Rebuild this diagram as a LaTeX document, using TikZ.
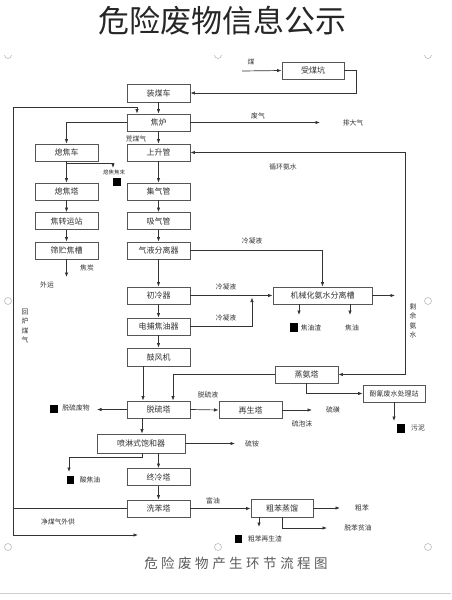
\documentclass[tikz,border=0pt]{standalone}
\usepackage{fontspec}
\setmainfont{Noto Sans CJK SC}
\usetikzlibrary{arrows.meta}
\definecolor{boxc}{HTML}{555555}
\definecolor{linec}{HTML}{333333}
\definecolor{txt}{HTML}{333333}
\definecolor{handle}{HTML}{BBBBBB}
\begin{document}
\begin{tikzpicture}[x=1pt,y=-1pt,
 box/.style={draw=boxc,line width=0.9pt,fill=white,minimum width=63pt,minimum height=17pt,inner sep=0pt,font=\fontsize{8}{9}\selectfont,text=txt},
 lbl/.style={font=\fontsize{6.8}{7}\selectfont,text=txt,inner sep=0pt},
 vlbl/.style={font=\fontsize{6.8}{9.5}\selectfont,text=txt,inner sep=0pt,align=center},
 ln/.style={draw=linec,line width=0.7pt},
 arr/.style={ln,-{Latex[length=4.5pt,width=3.5pt]}},
 arrb/.style={ln,{Latex[length=4.5pt,width=3.5pt]}-{Latex[length=4.5pt,width=3.5pt]}},
 sq/.style={fill=black,minimum width=8pt,minimum height=8pt,inner sep=0pt}]
\fill[white] (0,0) rectangle (451,600);
\useasboundingbox (0,0) rectangle (451,600);

% title and caption
\node[font=\fontsize{31}{32}\selectfont,text=black!85] (title) at (222,21) {危险废物信息公示};
\node[font=\fontsize{13.5}{14}\selectfont,text=txt!80] (caption) at (236,563)
 {危\hskip3.5pt 险\hskip3.5pt 废\hskip3.5pt 物\hskip3.5pt 产\hskip3.5pt 生\hskip3.5pt 环\hskip3.5pt 节\hskip3.5pt 流\hskip3.5pt 程\hskip3.5pt 图};
\draw[handle!70,line width=0.8pt] (0,593) -- (451,593);
% selection handles
\foreach \x in {8,218,428} {\draw[handle,line width=0.6pt] (\x-3.5,55) arc (180:0:3.5);}
\foreach \x/\y in {8/301,428/301,8/547,218/547,428/547} {\draw[handle,line width=0.6pt] (\x,\y) circle (3.5);}

% boxes
\node[box,minimum width=62pt] (shoumei) at (313,70.5) {受煤坑};
\node[box,minimum height=18pt] (zhuangmei) at (158.5,93) {装煤车};
\node[box] (jiaolu) at (158.5,122.5) {焦炉};
\node[box] (shangsheng) at (158.5,152.5) {上升管};
\node[box] (xijiaoche) at (66.5,152.5) {熄焦车};
\node[box] (xijiaota) at (66.5,191.5) {熄焦塔};
\node[box] (zhuanyun) at (66.5,221) {焦转运站};
\node[box] (shaizhu) at (66.5,250.5) {筛贮焦槽};
\node[box] (jiqi) at (158.5,191.5) {集气管};
\node[box] (xiqi) at (158.5,221) {吸气管};
\node[box] (qiye) at (158.5,250.5) {气液分离器};
\node[box] (chuleng) at (158.5,295.5) {初冷器};
\node[box] (dianbu) at (158.5,326.5) {电捕焦油器};
\node[box,minimum height=18pt] (gufeng) at (158.5,357) {鼓风机};
\node[box,minimum width=99pt] (jixie) at (322.5,295.5) {机械化氨水分离槽};
\node[box] (zhengan) at (306.5,374.5) {蒸氨塔};
\node[box,minimum width=62pt,font=\fontsize{7}{7.5}\selectfont] (fenqing) at (394,393.5) {酚氰废水处理站};
\node[box] (tuoliu) at (158.5,409.5) {脱硫塔};
\node[box] (zaisheng) at (250.5,410) {再生塔};
\node[box,minimum width=88pt,minimum height=19pt] (penlin) at (141,443.5) {喷淋式饱和器};
\node[box] (zhongleng) at (158.5,477) {终冷塔};
\node[box] (xiben) at (158.5,508.5) {洗苯塔};
\node[box,minimum width=62pt,minimum height=18pt] (cuben) at (282,508) {粗苯蒸馏};

% coordinates
\coordinate (coalin) at (242,71);
\coordinate (feiqiend) at (320,122.5);
\coordinate (amr) at (405,0);
\coordinate (leftx) at (13,0);
\coordinate (topy) at (0,107);
\coordinate (boty) at (0,535);

% coal
\draw[arr] (coalin) -- (shoumei.west);
\node[lbl] (mei) at (251,62) {煤};
\draw[arr] (shoumei.east) -- ++(12,0) |- (zhuangmei.east);
\draw[arr] (zhuangmei.south) -- (jiaolu.north);
% waste gas
\draw[arr] (jiaolu.east) -- (feiqiend);
\node[lbl] (feiqi) at (258,116) {废气};
\node[lbl] (paidaqi) at (353,123) {排大气};
% coke path
\draw[arr] (jiaolu.west) -| (xijiaoche.north);
\draw[arr] (xijiaoche.south) -- (xijiaota.north);
\coordinate (jmA) at (66.5,163);
\coordinate (jmB) at (113,163);
\coordinate (jmC) at (113,168);
\draw[ln] (jmA) -- (jmB);
\draw[arr] (jmB) -- (jmC);
\node[lbl,font=\fontsize{5.5}{6}\selectfont] (jmlbl) at (114,172.5) {熄焦焦末};
\node[sq] (jmsq) at (116.5,182) {};
\draw[arr] (xijiaota.south) -- (zhuanyun.north);
\draw[arr] (zhuanyun.south) -- (shaizhu.north);
\coordinate (waiyunend) at (66.5,277);
\draw[arr] (shaizhu.south) -- (waiyunend);
\node[lbl] (jiaotan) at (87,268) {焦炭};
\node[lbl] (waiyun) at (47,285) {外运};
% gas path
\draw[arr] (jiaolu.south) -- (shangsheng.north);
\node[lbl] (huangmeiqi) at (136,139) {荒煤气};
\draw[arr] (shangsheng.south) -- (jiqi.north);
\draw[arr] (jiqi.south) -- (xiqi.north);
\draw[arr] (xiqi.south) -- (qiye.north);
\draw[arr] (qiye.south) -- (chuleng.north);
\draw[arr] (chuleng.south) -- (dianbu.north);
\draw[arr] (dianbu.south) -- (gufeng.north);
% condensate
\draw[arr] (qiye.east) -| (jixie.north);
\node[lbl] (lny1) at (252,241) {冷凝液};
\draw[arr] (chuleng.east) -- (jixie.west);
\node[lbl] (lny2) at (226,287) {冷凝液};
\coordinate (dbx) at (252,0);
\draw[arr] (dianbu.east) -- (dianbu.east -| dbx) -- ([yshift=-2pt]chuleng.east -| dbx);
\node[lbl] (lny3) at (226,318) {冷凝液};
% tank outputs
\coordinate (jyA) at (299,304);
\coordinate (jyB) at (299,315);
\coordinate (jyC) at (350,304);
\coordinate (jyD) at (350,315);
\draw[arr] (jyA) -- (jyB);
\draw[arr] (jyC) -- (jyD);
\node[sq,minimum height=9pt] (jyzsq) at (294,327.5) {};
\node[lbl] (jyz) at (311,328) {焦油渣};
\node[lbl] (jy) at (352,328) {焦油};
\coordinate (jxend) at (395,295.5);
\draw[arr] (jixie.east) -- (jxend);
% ammonia water loop
\draw[arrb] (shangsheng.east) -- (shangsheng.east -| amr) -- (zhengan.east -| amr) -- (zhengan.east);
\node[lbl] (xhas) at (283,167) {循环氨水};
\node[vlbl] (syas) at (413,321) {剩\\余\\氨\\水};
% blower to desulf
\coordinate (gfx) at (143,0);
\draw[arr] (gufeng.south -| gfx) -- (tuoliu.north -| gfx);
\coordinate (zax) at (173,0);
\draw[arr] (zhengan.west) -- (zhengan.west -| zax) -- (tuoliu.north -| zax);
\draw[arr] (zhengan.south) |- (fenqing.west);
\coordinate (wnend) at (394,421);
\draw[arr] (fenqing.south) -- (wnend);
\node[sq,minimum height=9pt] (wnsq) at (401,428.5) {};
\node[lbl] (wn) at (418,428) {污泥};
% desulf
\coordinate (tlwend) at (97,409.5);
\draw[arr] (tuoliu.west) -- (tlwend);
\node[sq] (tlsq) at (54,409) {};
\node[lbl] (tlfw) at (76,408) {脱硫废物};
\draw[arr] (tuoliu.east) -- (zaisheng.west);
\node[lbl] (tly) at (208,395) {脱硫液};
\coordinate (lhend) at (312,410);
\draw[arr] (zaisheng.east) -- (lhend);
\node[lbl] (lh) at (333,410) {硫磺};
\node[lbl] (lpm) at (302,424) {硫泡沫};
\coordinate (tlx) at (142,0);
\draw[arr] (tuoliu.south -| tlx) -- (penlin.north -| tlx);
% saturator
\coordinate (laend) at (235,443.5);
\draw[arr] (penlin.east) -- (laend);
\node[lbl] (la) at (252,444) {硫铵};
\coordinate (sjA) at (142,457);
\coordinate (sjB) at (69,457);
\coordinate (sjC) at (69,472);
\draw[ln] (penlin.south -| sjA) -- (sjA) -- (sjB);
\draw[arr] (sjB) -- (sjC);
\node[sq,minimum width=7pt,minimum height=8pt] (sjsq) at (70,479.5) {};
\node[lbl] (sjy) at (90,480) {酸焦油};
\coordinate (plx) at (158.5,0);
\draw[arr] (penlin.south -| plx) -- (zhongleng.north);
\draw[arr] (zhongleng.south) -- (xiben.north);
% gas return / supply
\coordinate (hlend) at (137,0);
\draw[ln] (xiben.west) -- (xiben.west -| leftx);
\draw[ln] (topy -| leftx) -- (boty -| leftx);
\draw[arr] (topy -| leftx) -- (topy -| hlend) -- (jiaolu.north -| hlend);
\coordinate (jmqend) at (138,535);
\draw[arr] (boty -| leftx) -- (jmqend);
\node[vlbl] (hlmq) at (25,326) {回\\炉\\煤\\气};
\node[lbl] (jmq) at (58,522) {净煤气外供};
% benzene
\draw[arr] (xiben.east) -- (xiben.east -| cuben.west);
\node[lbl] (fy) at (213,501) {富油};
\coordinate (cbend) at (340,508);
\draw[arr] (cuben.east) -- (cbend);
\node[lbl] (cb) at (362,508) {粗苯};
\coordinate (cbx1) at (259,0);
\coordinate (cbA) at (259,527);
\draw[arr] (cuben.south -| cbx1) -- (cbA);
\node[sq,minimum width=7pt] (cbsq) at (238.5,539) {};
\node[lbl] (cbzs) at (265,539) {粗苯再生渣};
\coordinate (cbx2) at (282,528);
\coordinate (pyend) at (327,528);
\draw[arr] (cuben.south) -- (cbx2) -- (pyend);
\node[lbl] (py) at (358,528) {脱苯贫油};
\end{tikzpicture}
\end{document}
